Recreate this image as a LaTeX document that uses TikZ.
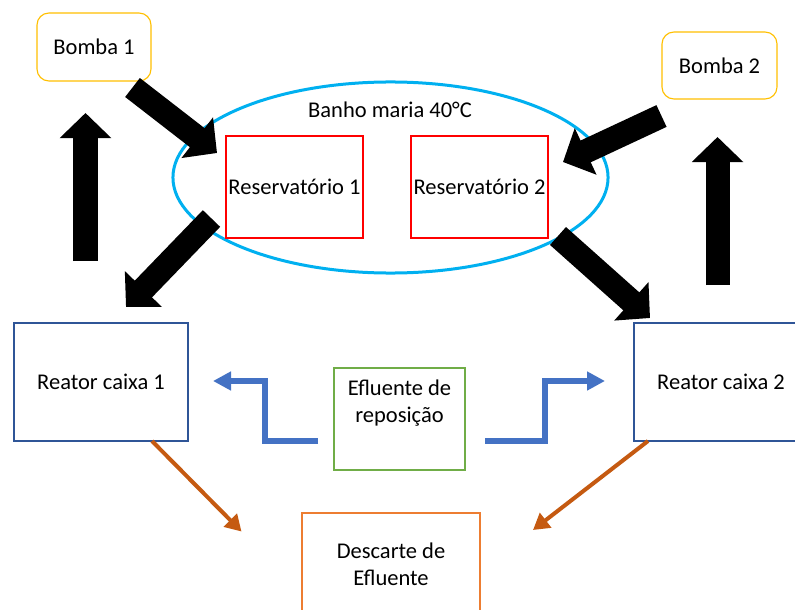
\documentclass[tikz,border=0pt]{standalone}
\usepackage{fontspec}
\setmainfont{Carlito}
\usepackage{tikz}
\usetikzlibrary{shapes.geometric}
\usetikzlibrary{positioning}
\usetikzlibrary{arrows.meta}
\usepackage{xcolor}
\definecolor{pumpyellow}{HTML}{FFC000}
\definecolor{bathcyan}{HTML}{00B0F0}
\definecolor{reactorblue}{HTML}{2F5597}
\definecolor{feedblue}{HTML}{4472C4}
\definecolor{feedgreen}{HTML}{70AD47}
\definecolor{wasteorange}{HTML}{ED7D31}
\definecolor{drainorange}{HTML}{C55A11}

\begin{document}
\begin{tikzpicture}[x=0.025cm, y=-0.025cm,
    every node/.style={font=\fontsize{16}{19.2}\selectfont, align=center, inner sep=0pt},
    pumpbox/.style={draw=pumpyellow, line width=0.8pt, rounded corners=0.3cm, rectangle},
    tankbox/.style={draw=red, line width=0.8pt, rectangle, minimum width=3.425cm, minimum height=2.55cm},
    reactorbox/.style={draw=reactorblue, line width=0.8pt, rectangle, minimum width=4.35cm, minimum height=2.95cm},
    blockarrow/.style={line width=0.6cm, -{Triangle[length=0.625cm, width=1.25cm]}},
    feedarrow/.style={draw=feedblue, line width=0.15cm, line join=miter, -{Triangle[length=0.45cm, width=0.45cm]}},
    drainarrow/.style={draw=drainorange, line width=0.1cm, -{Triangle[length=0.4cm, width=0.45cm]}}]
            \clip (0,0) rectangle (795,610);
            \path[fill=white] (0,0) rectangle (795,610);

            \node[draw=bathcyan, line width=0.075cm, ellipse, minimum width=10.875cm, minimum height=4.775cm] (bath) at (390.5,177.5) {};
            \node (bathlabel) at (390,110) {Banho maria 40°C};

            \node[pumpbox, minimum width=2.85cm, minimum height=1.7cm] (bomba1) at (94,47) {Bomba 1};
            \node[pumpbox, minimum width=2.875cm, minimum height=1.675cm] (bomba2) at (719.5,65.5) {Bomba 2};

            \node[tankbox] (res1) at (294.5,187) {Reservatório 1};
            \node[tankbox] (res2) at (479.5,187) {Reservatório 2};

            \node[reactorbox] (reator1) at (101,382) {Reator caixa 1};
            \node[reactorbox] (reator2) at (721,382) {Reator caixa 2};

            \node[draw=feedgreen, line width=0.8pt, rectangle, minimum width=3.275cm, minimum height=2.55cm] (repo) at (399.5,419) {Efluente de\\reposição\\\strut};
            \node[draw=wasteorange, line width=0.8pt, rectangle, minimum width=4.45cm, minimum height=2.55cm] (descarte) at (391,564) {Descarte de\\Efluente};

            % ends of the block arrows
            \coordinate (b1out) at (132.5,87.5);
            \coordinate (r1in) at (217,153);
            \coordinate (r1out) at (211.5,218.5);
            \coordinate (k1in) at (126,307);
            \coordinate (k1up) at (85.5,261);
            \coordinate (b1in) at (85.5,113);
            \coordinate (b2out) at (661.5,116);
            \coordinate (r2in) at (563,162);
            \coordinate (r2out) at (558,236);
            \coordinate (k2in) at (650,318);
            \coordinate (k2up) at (717.5,285);
            \coordinate (b2in) at (717.5,137);

            \draw[blockarrow] (b1out) -- (r1in);
            \draw[blockarrow] (r1out) -- (k1in);
            \draw[blockarrow] (k1up) -- (b1in);
            \draw[blockarrow] (b2out) -- (r2in);
            \draw[blockarrow] (r2out) -- (k2in);
            \draw[blockarrow] (k2up) -- (b2in);

            % make-up effluent
            \coordinate (feed1) at (318,441);
            \coordinate (feed1in) at (213,381);
            \coordinate (feed2) at (485,441);
            \coordinate (feed2in) at (605,381);
            \draw[feedarrow] (feed1) -- (265,441) -- (265,381) -- (feed1in);
            \draw[feedarrow] (feed2) -- (545,441) -- (545,381) -- (feed2in);

            % discharge
            \coordinate (drain1) at (152,441);
            \coordinate (drain1in) at (241.5,531.5);
            \coordinate (drain2) at (648,441);
            \coordinate (drain2in) at (533,530);
            \draw[drainarrow] (drain1) -- (drain1in);
            \draw[drainarrow] (drain2) -- (drain2in);
        \end{tikzpicture}
\end{document}
